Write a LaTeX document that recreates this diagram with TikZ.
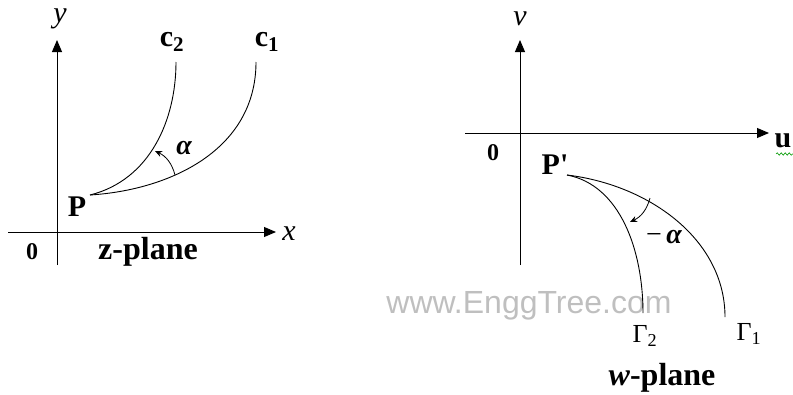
\documentclass[tikz,border=0pt]{standalone}
\usepackage{fontspec}
\setmainfont{Liberation Serif}
\newfontfamily\rawserif{Liberation Serif}
\newfontfamily\wmfont{Liberation Sans}
\usetikzlibrary{arrows.meta,decorations.pathmorphing}
\tikzset{
  axis/.style={line width=0.9pt,-{Triangle[length=12pt,width=10pt]}},
  curve/.style={line width=0.9pt},
  angarrow/.style={line width=0.8pt,-{Stealth[length=7pt,width=6pt]}},
  lbl/.style={inner sep=0pt,font=\fontsize{30}{34}\selectfont\bfseries},
  plbl/.style={inner sep=0pt,font=\fontsize{32}{36}\selectfont\bfseries},
  ilbl/.style={inner sep=0pt,font=\fontsize{30}{34}\selectfont\itshape},
  albl/.style={inner sep=0pt,font=\fontsize{28}{32}\selectfont\bfseries\itshape},
  glbl/.style={inner sep=0pt,font=\fontsize{26}{30}\selectfont},
}
\begin{document}
\begin{tikzpicture}[x=1pt,y=-1pt]
\useasboundingbox (0,0) rectangle (793,394);
% ---------- z-plane ----------
\coordinate (yb) at (57,265);
\coordinate (yt) at (57,40);
\coordinate (xl) at (8,232);
\coordinate (xr) at (276,232);
\draw[axis] (yb) -- (yt);
\draw[axis] (xl) -- (xr);
\node[ilbl] (ylab) at (60,19) {y};
\node[ilbl] (xlab) at (289,234) {x};
\node[lbl,font=\fontsize{24}{28}\selectfont\bfseries] (o1) at (32,252) {0};
\node[plbl] (zpl) at (148,252) {z-plane};
\node[lbl] (Plab) at (77,207) {P};
\coordinate (P) at (90,195);
\coordinate (c2e) at (176,62);
\coordinate (c1e) at (256,62);
\draw[curve] (P) .. controls (150,180) and (176,120) .. (c2e);
\draw[curve] (P) .. controls (170,190) and (256,150) .. (c1e);
\node[lbl] (c2l) at (172,42) {c\textsubscript{2}};
\node[lbl] (c1l) at (267,42) {c\textsubscript{1}};
\coordinate (a1) at (175,175);
\coordinate (a2) at (155,151);
\draw[angarrow] (a1) to[bend right=25] (a2);
\node[albl] (alab) at (184,148) {α};
% ---------- w-plane ----------
\coordinate (vb) at (520,265);
\coordinate (vt) at (520,40);
\coordinate (ul) at (465,133);
\coordinate (ur) at (769,133);
\draw[axis] (vb) -- (vt);
\draw[axis] (ul) -- (ur);
\node[ilbl] (vlab) at (520,19) {v};
\node[lbl] (ulab) at (783,141) {u};
\draw[green!60!black,line width=0.6pt,decorate,decoration={snake,amplitude=1.2pt,segment length=4pt}] (776,154) -- (793,154);
\node[lbl,font=\fontsize{24}{28}\selectfont\bfseries] (o2) at (493,153) {0};
\node[lbl,font=\fontsize{30}{34}\rawserif\bfseries] (Pplab) at (555,165) {P'};
\coordinate (Pp) at (567,175);
\coordinate (g2e) at (643,313);
\coordinate (g1e) at (725,317);
\node[text=black!25,inner sep=0pt,font=\fontsize{32}{36}\selectfont\wmfont] (wm) at (529,306) {www.EnggTree.com};
\draw[curve] (Pp) .. controls (620,185) and (643,250) .. (g2e);
\draw[curve] (Pp) .. controls (650,185) and (725,240) .. (g1e);
\coordinate (b1) at (650,198);
\coordinate (b2) at (630,222);
\draw[angarrow] (b1) to[bend left=25] (b2);
\node[albl] (malab) at (664,237) {{\upshape\mdseries −\,}α};
\node[glbl] (g2l) at (645,336) {Γ\textsubscript{2}};
\node[glbl] (g1l) at (749,334) {Γ\textsubscript{1}};
\node[plbl] (wpl) at (662,378) {\textit{w}-plane};
\end{tikzpicture}
\end{document}
